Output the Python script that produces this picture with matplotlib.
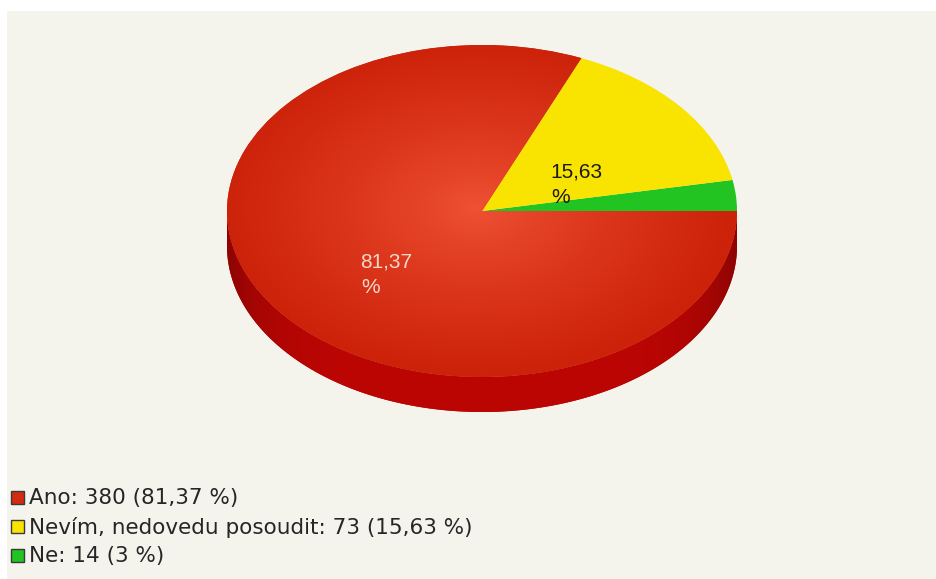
"""Survey pie (3D look): Ano / Nevím, nedovedu posoudit / Ne."""
import numpy as np
import matplotlib

matplotlib.use("Agg")
import matplotlib.pyplot as plt
from matplotlib.patches import Wedge, Polygon, Rectangle
from matplotlib.transforms import Affine2D

# data, legend order
labels = ["Ano", "Nevím, nedovedu posoudit", "Ne"]
counts = [380, 73, 14]
pct_text = ["81,37", "15,63", "3"]
colors = ["#d42a10", "#f8e400", "#22c422"]
label_colors = ["#f6d8c8", "#1a1a1a", None]

W, H = 936, 579
BG = "#f4f3ec"

# pie geometry in pixel coords
cx, cy, rx, ry, depth = 482, 211, 255, 166, 35

fig = plt.figure(figsize=(W / 100, H / 100), dpi=100)
fig.patch.set_facecolor("white")
ax = fig.add_axes([0, 0, 1, 1])
ax.set_xlim(0, W)
ax.set_ylim(H, 0)
ax.axis("off")
ax.add_patch(Rectangle((7, 11), W, H, facecolor=BG, edgecolor="none", zorder=0))

unit = Affine2D().scale(rx, -ry).translate(cx, cy) + ax.transData

# slices are laid counter-clockwise from 3 o'clock, last legend item first
total = sum(counts)
order = list(range(len(counts)))[::-1]
theta = 0.0
spans = {}
for i in order:
    t1 = theta + 360.0 * counts[i] / total
    spans[i] = (theta, t1)
    theta = t1

# side wall (front half, all of it belongs to "Ano")
t = np.radians(np.linspace(180, 360, 200))
top = np.column_stack([cx + rx * np.cos(t), cy - ry * np.sin(t)])
bot = top[::-1] + [0, depth]
side = Polygon(np.vstack([top, bot]), closed=True, facecolor="#b40404",
               edgecolor="none", zorder=1)
ax.add_patch(side)
sx = np.linspace(-1, 1, 300)
shade = 1 - 0.25 * sx ** 6
side_img = np.zeros((2, 300, 3))
side_img[:] = (np.array([188, 6, 4]) / 255.0) * shade[:, None]
im = ax.imshow(side_img, extent=(cx - rx, cx + rx, cy + ry + depth, cy),
               aspect="auto", zorder=1.5, interpolation="bilinear")
im.set_clip_path(side)

# top face
wedges = {}
for i in order:
    a0, a1 = spans[i]
    w = Wedge((0, 0), 1, a0, a1, facecolor=colors[i], edgecolor="none",
              transform=unit, zorder=2)
    ax.add_patch(w)
    wedges[i] = w

# radial shading on the big slice
gx, gy = np.meshgrid(np.linspace(-1, 1, 400), np.linspace(-1, 1, 300))
r = np.clip(np.hypot(gx + 0.02, gy + 0.02), 0, 1)
c_in = np.array([240, 82, 52]) / 255.0
c_out = np.array([204, 34, 10]) / 255.0
grad = c_in + (c_out - c_in) * (r ** 0.8)[..., None]
im2 = ax.imshow(grad, extent=(cx - rx, cx + rx, cy + ry, cy - ry),
                aspect="auto", zorder=2.5, interpolation="bilinear")
im2.set_clip_path(wedges[0])

# percentage labels on the slices
label_pos = {0: (360, 268), 1: (550, 178)}
for i, (lx, ly) in label_pos.items():
    ax.text(lx, ly, pct_text[i], color=label_colors[i], fontsize=15,
            family="Liberation Sans", va="baseline", ha="left", zorder=3)
    ax.text(lx + 1, ly + 25, "%", color=label_colors[i], fontsize=15,
            family="Liberation Sans", va="baseline", ha="left", zorder=3)

# legend
for k, name in enumerate(labels):
    yc = 498 + 29 * k
    ax.add_patch(Rectangle((11, yc - 7), 13, 13, facecolor=colors[k],
                           edgecolor="#3a3a3a", lw=1, zorder=3))
    ax.text(29, yc, f"{name}: {counts[k]} ({pct_text[k]} %)", fontsize=15.5,
            family="DejaVu Sans", color="#262626", va="center", ha="left")

fig.savefig("out.png", dpi=100, facecolor=fig.get_facecolor())
